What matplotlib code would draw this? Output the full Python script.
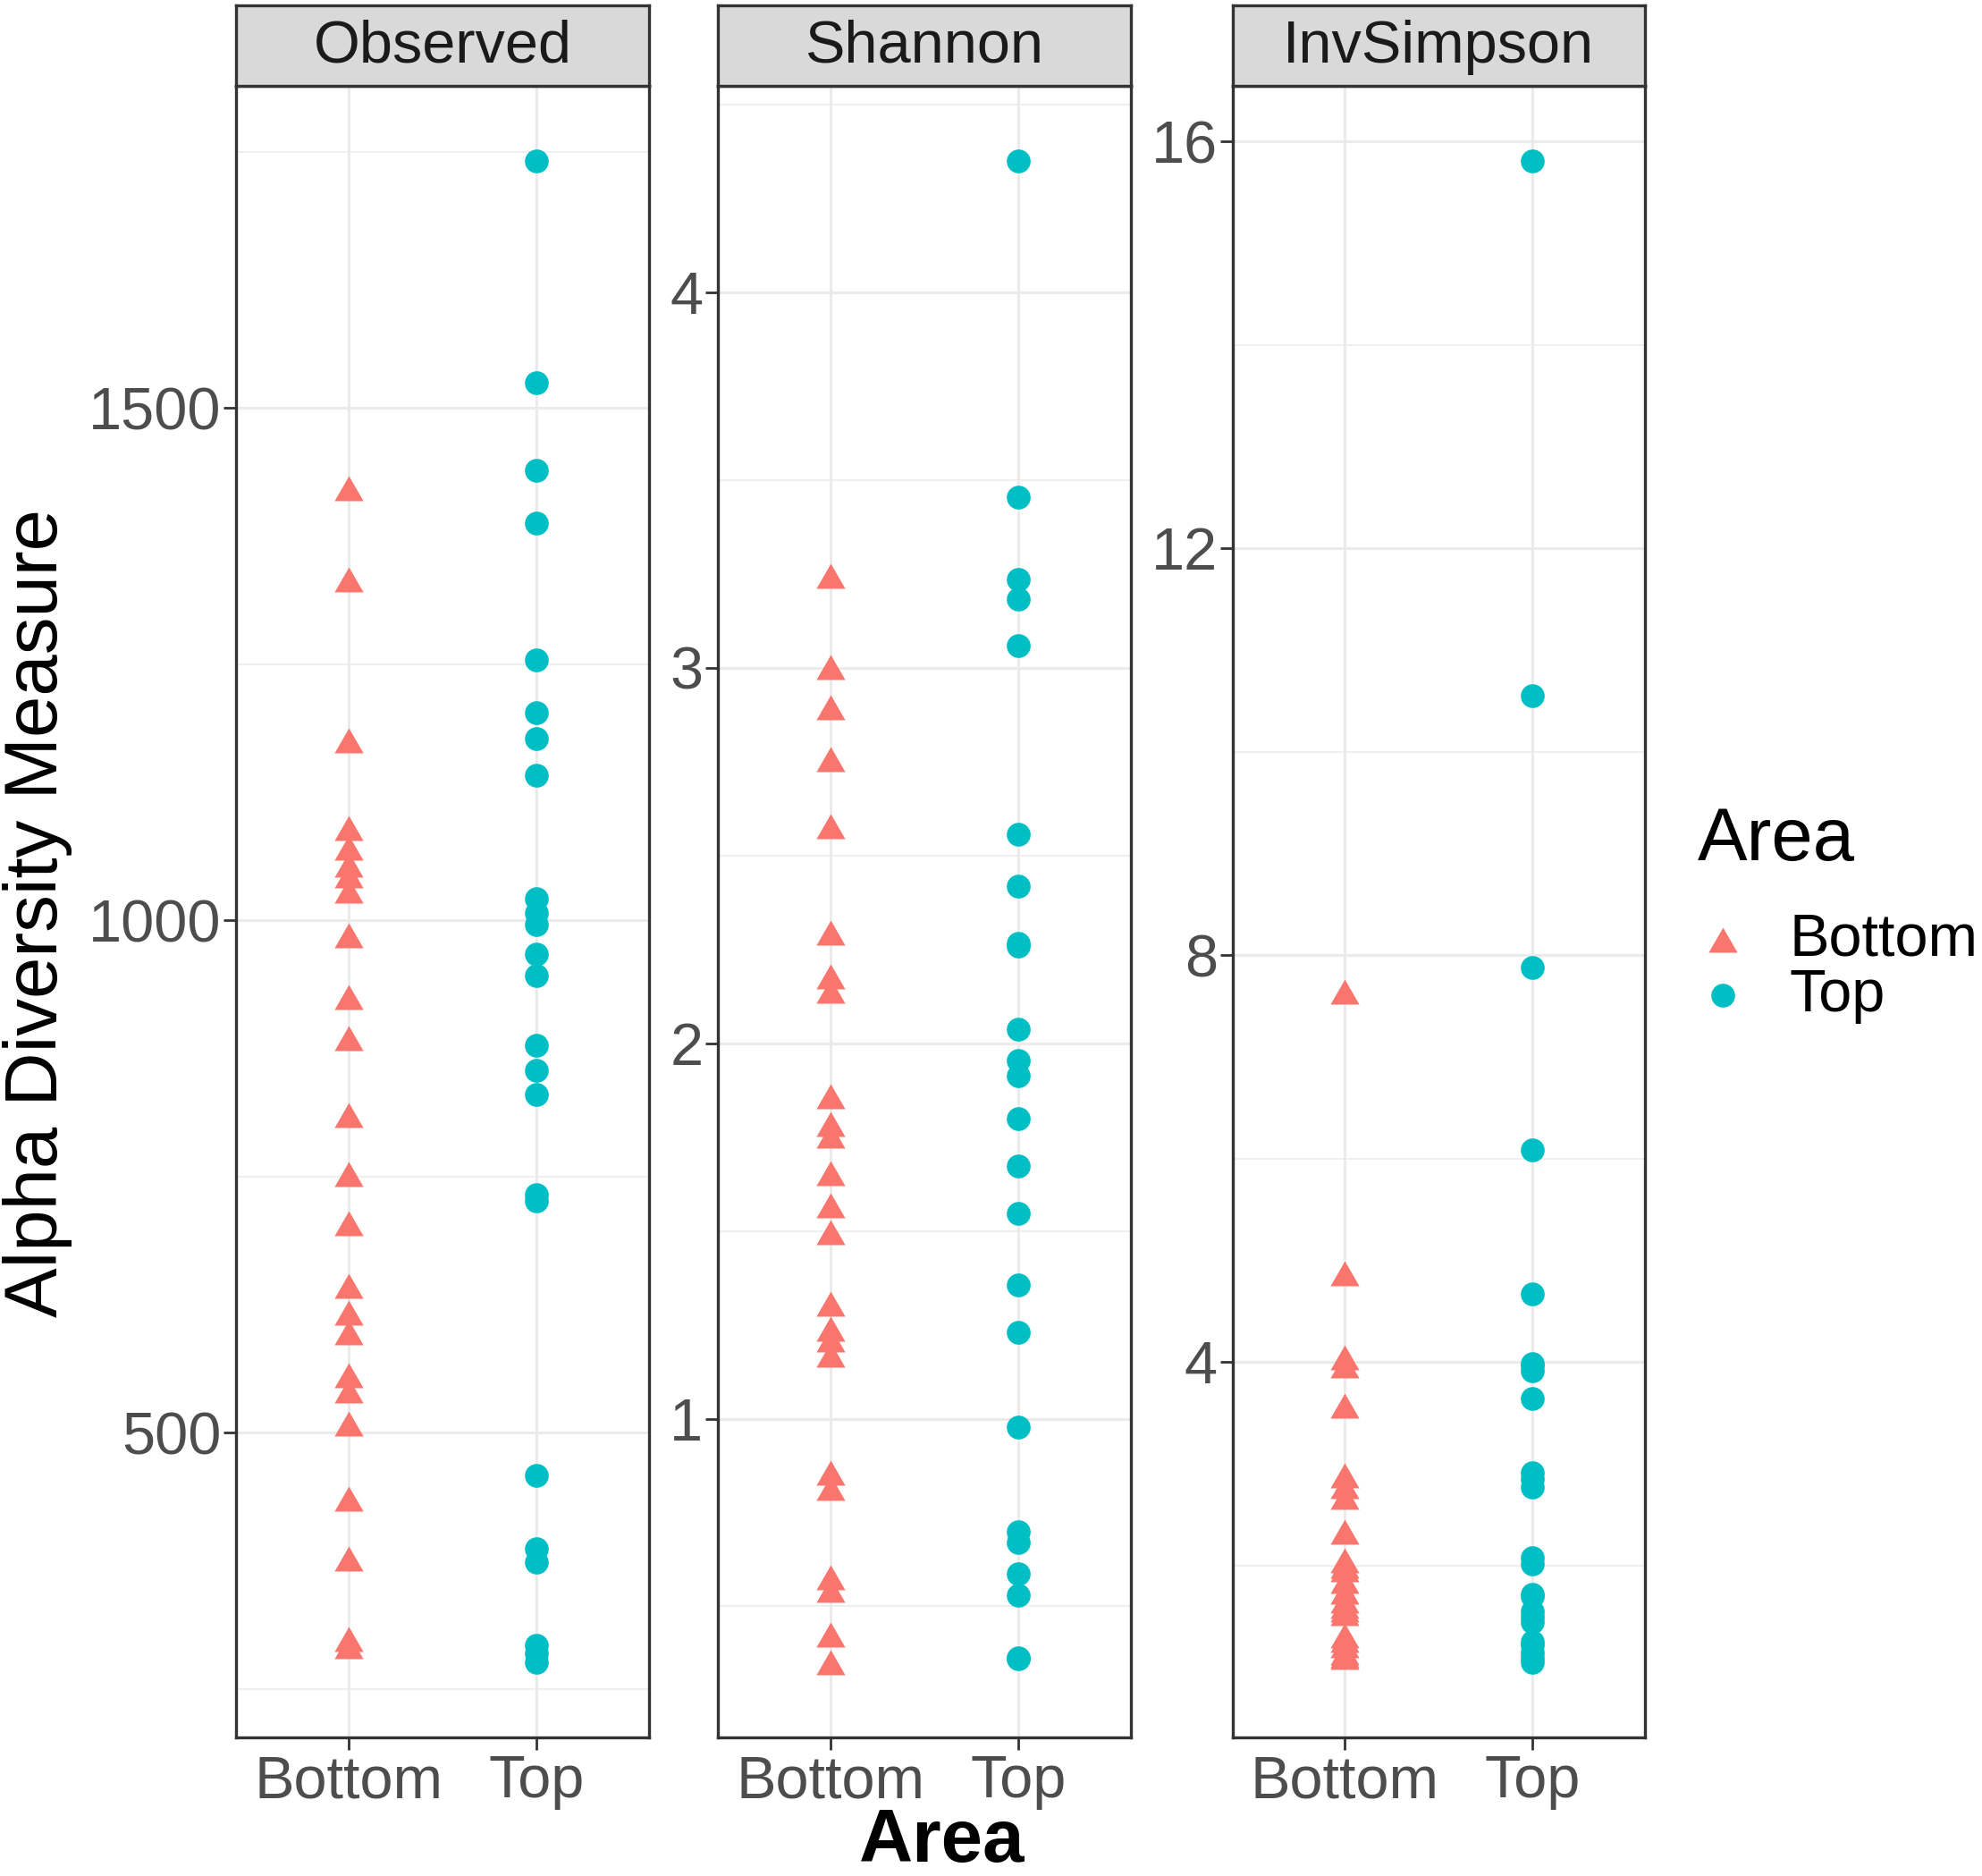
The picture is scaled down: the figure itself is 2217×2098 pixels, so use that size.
import numpy as np
import matplotlib
matplotlib.use("Agg")
import matplotlib.pyplot as plt
from matplotlib.ticker import MultipleLocator

plt.rcParams['font.family'] = ['Liberation Sans', 'DejaVu Sans']

# ---------------- data ----------------
areas = ["Bottom", "Top"]
measures = ["Observed", "Shannon", "InvSimpson"]

obs_bottom = [1422, 1333, 1176, 1090, 1071, 1054, 1044, 1029, 985, 925, 885, 810,
              752, 704, 643, 617, 598, 556, 541, 509, 436, 377, 299, 292]
obs_top = [1741, 1525, 1439, 1388, 1254, 1203, 1177, 1142, 1021, 1007, 996, 967,
           946, 878, 854, 830, 732, 726, 458, 387, 374, 293, 285, 276]

sha_bottom = [3.245, 3.003, 2.894, 2.757, 2.577, 2.294, 2.178, 2.140, 1.859, 1.784,
              1.755, 1.655, 1.568, 1.497, 1.307, 1.239, 1.210, 1.171, 0.855, 0.816,
              0.578, 0.544, 0.425, 0.351]
sha_top = [4.35, 3.455, 3.235, 3.183, 3.060, 2.557, 2.418, 2.266, 2.258, 2.037, 1.955,
           1.913, 1.800, 1.672, 1.546, 1.356, 1.230, 0.977, 0.699, 0.670, 0.588,
           0.529, 0.362, 0.360]

inv_bottom = [7.64, 4.87, 4.05, 3.965, 3.57, 2.885, 2.78, 2.68, 2.33, 2.05, 2.00,
              1.965, 1.85, 1.745, 1.66, 1.60, 1.57, 1.53, 1.31, 1.27, 1.22, 1.15,
              1.12, 1.10]
inv_top = [15.81, 10.55, 7.88, 6.09, 4.67, 3.99, 3.965, 3.92, 3.64, 2.91, 2.85, 2.77,
           2.08, 2.02, 1.72, 1.70, 1.55, 1.50, 1.45, 1.25, 1.22, 1.15, 1.09, 1.05]

panel_data = {
    "Observed": (obs_bottom, obs_top),
    "Shannon": (sha_bottom, sha_top),
    "InvSimpson": (inv_bottom, inv_top),
}
major_step = {"Observed": 500, "Shannon": 1, "InvSimpson": 4}

# ---------------- style ----------------
col_bottom = "#F8766D"
col_top = "#00BFC4"
tri = [(-1, -0.866), (1, -0.866), (0, 0.866)]
tick_col = "#4D4D4D"
grid_col = "#EBEBEB"
border_col = "#333333"

fig = plt.figure(figsize=(2217 / 200, 2098 / 200), dpi=200)

lefts = [0.1193, 0.3622, 0.6218]
width = 0.2083
bottom = 0.0739
top = 0.9542
strip_top = 0.9973

handles = None
for i, m in enumerate(measures):
    ax = fig.add_axes([lefts[i], bottom, width, top - bottom])
    b, t = panel_data[m]
    h1 = ax.scatter([areas[0]] * len(b), b, marker=tri, s=135, color=col_bottom,
                    linewidths=0, zorder=3, label=areas[0])
    h2 = ax.scatter([areas[1]] * len(t), t, marker="o", s=92, color=col_top,
                    linewidths=0, zorder=3, label=areas[1])
    if handles is None:
        handles = [h1, h2]
    ax.set_xlim(-0.6, 1.6)
    ax.margins(y=0.05)
    ax.yaxis.set_major_locator(MultipleLocator(major_step[m]))
    ax.yaxis.set_minor_locator(MultipleLocator(major_step[m] / 2))
    ax.set_axisbelow(True)
    ax.grid(which="major", axis="both", color=grid_col, lw=1.1)
    ax.grid(which="minor", axis="y", color=grid_col, lw=0.55)
    ax.tick_params(which="minor", length=0)
    ax.tick_params(which="major", length=5, width=1.0, color=border_col,
                   labelsize=24, labelcolor=tick_col)
    ax.tick_params(axis="y", pad=1)
    ax.tick_params(axis="x", pad=2)
    for sp in ax.spines.values():
        sp.set_color(border_col)
        sp.set_linewidth(1.2)

    sax = fig.add_axes([lefts[i], top, width, strip_top - top])
    sax.set_facecolor("#D9D9D9")
    sax.set_xticks([])
    sax.set_yticks([])
    for sp in sax.spines.values():
        sp.set_color(border_col)
        sp.set_linewidth(1.2)
    sax.text(0.5, 0.48, m, ha="center", va="center", fontsize=24, color="#1A1A1A",
             transform=sax.transAxes)

fig.text(0.019, 0.5134, "Alpha Diversity Measure", rotation=90, ha="center",
         va="center", fontsize=30, color="black")
fig.text(0.4751, 0.018, "Area", ha="center", va="center", fontsize=30,
         fontweight="bold", color="black")

fig.text(0.8565, 0.552, "Area", ha="left", va="center", fontsize=30, color="black")
fig.legend(handles, areas, loc="center left", bbox_to_anchor=(0.839, 0.484),
           frameon=False, fontsize=24, borderpad=0, handlelength=1.0,
           handletextpad=0.62, labelspacing=0.0, markerscale=1.0)

fig.savefig("out.png", dpi=200)
